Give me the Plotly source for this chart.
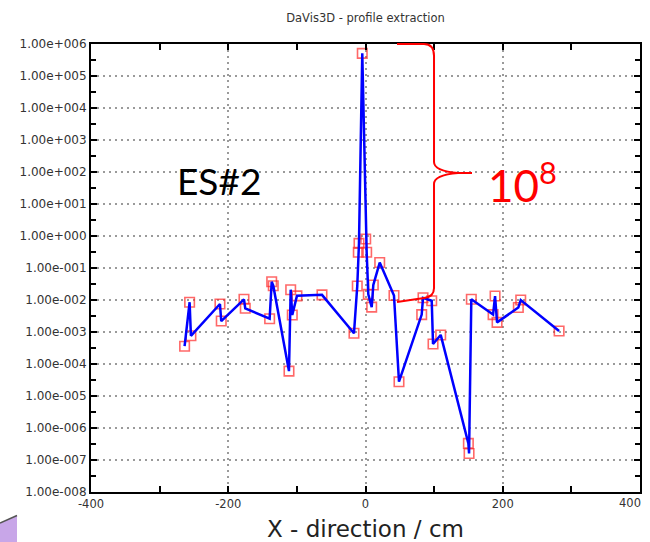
import plotly.graph_objects as go

# ---- data ----
x_cm = [-263.6, -256.3, -254.4, -212.1, -210.2, -177.1, -175.2, -139.7, -136.7, -134.4,
        -111.5, -109.0, -106.7, -99.9, -63.4, -16.8, -12.0, -10.5, -9.5, -4.7,
        0.3, 1.7, 4.1, 9.0, 11.4, 20.7, 41.5, 48.8, 81.9, 83.8,
        96.5, 98.4, 109.6, 149.9, 150.9, 154.2, 185.9, 188.8, 191.7, 222.7,
        226.2, 282.1]
y_val = [3.6e-4, 8.5e-3, 7.6e-4, 7.5e-3, 2.2e-3, 1.05e-2, 5.5e-3, 2.6e-3, 3.7e-2, 2.8e-2,
         6.0e-5, 2.1e-2, 3.4e-3, 1.35e-2, 1.45e-2, 9.1e-4, 2.75e-2, 0.31, 0.59, 5.1e5,
         0.81, 0.31, 1.5e-2, 6.0e-3, 2.95e-2, 0.148, 1.38e-2, 2.8e-5, 3.5e-3, 1.17e-2,
         9.5e-3, 4.2e-4, 8.1e-4, 3.3e-7, 1.6e-7, 1.05e-2, 3.5e-3, 1.33e-2, 2.0e-3, 5.8e-3,
         1.0e-2, 1.07e-3]

x_ticks = [-400, -200, 0, 200]
x_last_tick = "400"
x_minor = [-400, -300, -200, -100, 0, 100, 200, 300, 400]
y_exps = list(range(-8, 7))
y_ticks = [10.0 ** e for e in y_exps]
y_ticktext = ["1.00e%s%03d" % ("+" if e >= 0 else "-", abs(e)) for e in y_exps]
y_minor = [10.0 ** (e + 0.5) for e in range(-8, 6)]

title_text = "DaVis3D - profile extraction"
x_title = "X - direction / cm"
label_left = "ES#2"
label_right = "10<sup>8</sup>"

# ---- layout geometry (pixels) ----
W, H = 650, 542
ML, MR, MT, MB = 91, 10, 44, 50
PW, PH = W - ML - MR, H - MT - MB


def px(xp):
    return (xp - ML) / PW


def py(yp):
    return (H - MB - yp) / PH


fig = go.Figure()
fig.add_trace(go.Scatter(
    x=x_cm, y=y_val, mode="markers",
    marker=dict(symbol="square-open", size=9.5, color="rgba(255,40,40,0.7)",
                line=dict(width=1.6, color="rgba(255,40,40,0.7)")),
    showlegend=False, hoverinfo="skip"))
fig.add_trace(go.Scatter(
    x=x_cm, y=y_val, mode="lines",
    line=dict(color="#0000ff", width=2.5),
    showlegend=False))

# red curly brace (pixel path converted to paper coords)
def P(a, b):
    return "%.4f,%.4f" % (px(a), py(b))

brace = ("M " + P(397, 44) + " L " + P(424, 44) + " Q " + P(434, 44) + " " + P(434, 56) +
         " L " + P(434, 162) + " Q " + P(434, 171) + " " + P(458, 173) + " L " + P(472, 173) +
         " M " + P(458, 173) + " Q " + P(434, 175) + " " + P(434, 184) +
         " L " + P(434, 288) + " Q " + P(434, 297) + " " + P(424, 298) + " L " + P(397, 302))
fig.add_shape(type="path", xref="paper", yref="paper", path=brace,
              line=dict(color="#ff0000", width=2))

# purple corner decoration
corner = ("M " + P(0, 523) + " L " + P(17, 515.5) + " L " + P(17, 542) + " L " + P(0, 542) + " Z")
fig.add_shape(type="path", xref="paper", yref="paper", path=corner,
              fillcolor="#c8a6e8", line=dict(width=0))
fig.add_shape(type="line", xref="paper", yref="paper",
              x0=px(0), y0=py(523), x1=px(17), y1=py(515.5),
              line=dict(color="#555555", width=1.5))

fig.add_annotation(text=label_left, xref="paper", yref="paper",
                   x=px(219), y=py(180), xanchor="center", yanchor="middle",
                   showarrow=False,
                   font=dict(family="Lato", size=37, color="black"))
fig.add_annotation(text=label_right, xref="paper", yref="paper",
                   x=px(522), y=py(183), xanchor="center", yanchor="middle",
                   showarrow=False,
                   font=dict(family="Lato", size=44, color="#ff0000"))
# last x tick label, kept inside the page edge as in the reference
fig.add_annotation(text=x_last_tick, xref="paper", yref="paper",
                   x=px(643), y=py(503), xanchor="right", yanchor="middle",
                   showarrow=False,
                   font=dict(family="DejaVu Sans", size=11.5, color="#333333"))

fig.update_layout(
    width=W, height=H,
    margin=dict(l=ML, r=MR, t=MT, b=MB, autoexpand=False),
    paper_bgcolor="white", plot_bgcolor="white",
    title=dict(text=title_text, x=0.5, xref="paper", xanchor="center",
               y=1 - 18 / H, yref="container", yanchor="middle",
               font=dict(family="DejaVu Sans", size=11.5, color="#333333")),
    font=dict(family="DejaVu Sans", color="#333333"),
)
fig.update_xaxes(
    range=[-400, 400], tickmode="array", tickvals=x_ticks,
    ticktext=[str(v) for v in x_ticks], automargin=False,
    showline=True, linecolor="black", linewidth=2, mirror="ticks",
    ticks="inside", ticklen=6, tickwidth=1.5, tickcolor="black",
    showgrid=True, gridcolor="#9a9a9a", gridwidth=1.5, griddash="2px,4px",
    zeroline=False,
    tickfont=dict(family="DejaVu Sans", size=11.5, color="#333333"),
    minor=dict(tickmode="array", tickvals=x_minor, ticks="inside", ticklen=6,
               tickwidth=1.5, tickcolor="black", showgrid=False),
    title=dict(text=x_title, standoff=12,
               font=dict(family="DejaVu Sans", size=23, color="#222222")),
)
fig.update_yaxes(
    type="log", range=[-8, 6], tickmode="array", tickvals=y_ticks, ticktext=y_ticktext,
    automargin=False,
    showline=True, linecolor="black", linewidth=2, mirror="ticks",
    ticks="inside", ticklen=6, tickwidth=1.5, tickcolor="black",
    showgrid=True, gridcolor="#9a9a9a", gridwidth=1.5, griddash="2px,4px",
    zeroline=False,
    tickfont=dict(family="DejaVu Sans", size=12, color="#333333"),
    minor=dict(tickmode="array", tickvals=y_minor, ticks="inside", ticklen=5,
               tickwidth=1.5, tickcolor="black", showgrid=False),
)

fig.write_html("out.html")
